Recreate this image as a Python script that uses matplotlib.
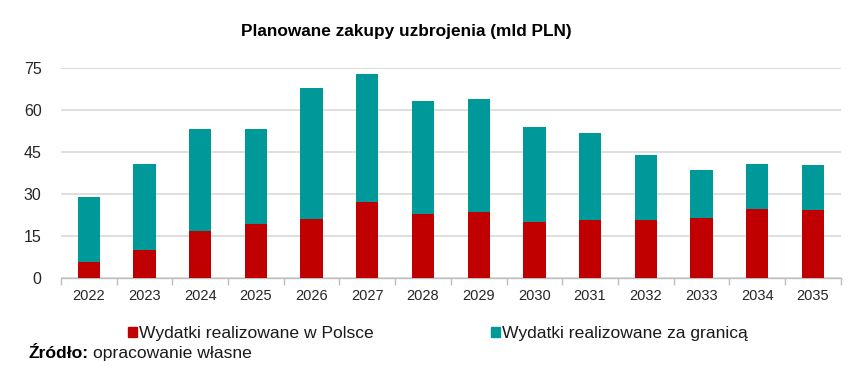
import matplotlib
matplotlib.use("Agg")
import matplotlib.pyplot as plt
import numpy as np
from matplotlib.patches import Patch

plt.rcParams['font.family'] = ['Liberation Sans', 'DejaVu Sans']

years = ['2022', '2023', '2024', '2025', '2026', '2027', '2028',
         '2029', '2030', '2031', '2032', '2033', '2034', '2035']
domestic = [5.6, 10.0, 16.8, 19.3, 21.0, 27.0, 22.9, 23.6, 20.0, 20.7, 20.7, 21.2, 24.6, 24.1]
totals = [28.8, 40.7, 53.0, 53.2, 67.8, 72.9, 63.2, 63.9, 53.9, 51.6, 43.8, 38.4, 40.7, 40.4]
abroad = [t - d for t, d in zip(totals, domestic)]

red = '#C00000'
teal = '#009999'

fig = plt.figure(figsize=(8.54, 3.74), dpi=100)
ax = fig.add_axes([0.0714, 0.2575, 0.913, 0.5615])

x = np.arange(len(years))
ax.bar(x, domestic, width=0.4, color=red, zorder=3)
ax.bar(x, abroad, width=0.4, bottom=domestic, color=teal, zorder=3)

ax.set_ylim(0, 75)
ax.set_xlim(-0.5, len(years) - 0.5)
ax.set_yticks([0, 15, 30, 45, 60, 75])
ax.yaxis.grid(True, color='#D9D9D9', linewidth=1.2, zorder=0)
ax.tick_params(axis='y', length=0, labelsize=11.5, labelcolor='#262626', pad=14)
ax.set_xticks(x)
ax.set_xticklabels(years)
ax.tick_params(axis='x', which='major', length=0, labelsize=10.5, labelcolor='#262626', pad=8)
ax.set_xticks(np.arange(-0.5, len(years), 1.0), minor=True)
ax.tick_params(axis='x', which='minor', length=5, color='#BFBFBF', width=1)
for s in ['top', 'right', 'left']:
    ax.spines[s].set_visible(False)
ax.spines['bottom'].set_color('#BFBFBF')
ax.spines['bottom'].set_linewidth(1)

fig.text(0.476, 0.915, 'Planowane zakupy uzbrojenia (mld PLN)', ha='center', va='center',
         fontsize=12.4, fontweight='bold', color='#000000')

handles = [Patch(color=red, label='Wydatki realizowane w Polsce'),
           Patch(color=teal, label='Wydatki realizowane za granicą')]
fig.legend(handles=handles, loc='center left', bbox_to_anchor=(0.1495, 0.1075), ncol=2,
           frameon=False, fontsize=12.6, handlelength=0.51, handleheight=0.51,
           handletextpad=0.13, columnspacing=6.7, borderpad=0, borderaxespad=0,
           labelcolor='#1a1a1a')

fig.text(0.0328, 0.0535, 'Źródło:', ha='left', va='center', fontsize=12.6, fontweight='bold')
fig.text(0.1093, 0.0535, 'opracowanie własne', ha='left', va='center', fontsize=12.6,
         color='#1a1a1a')

fig.savefig('out.png', dpi=100)
